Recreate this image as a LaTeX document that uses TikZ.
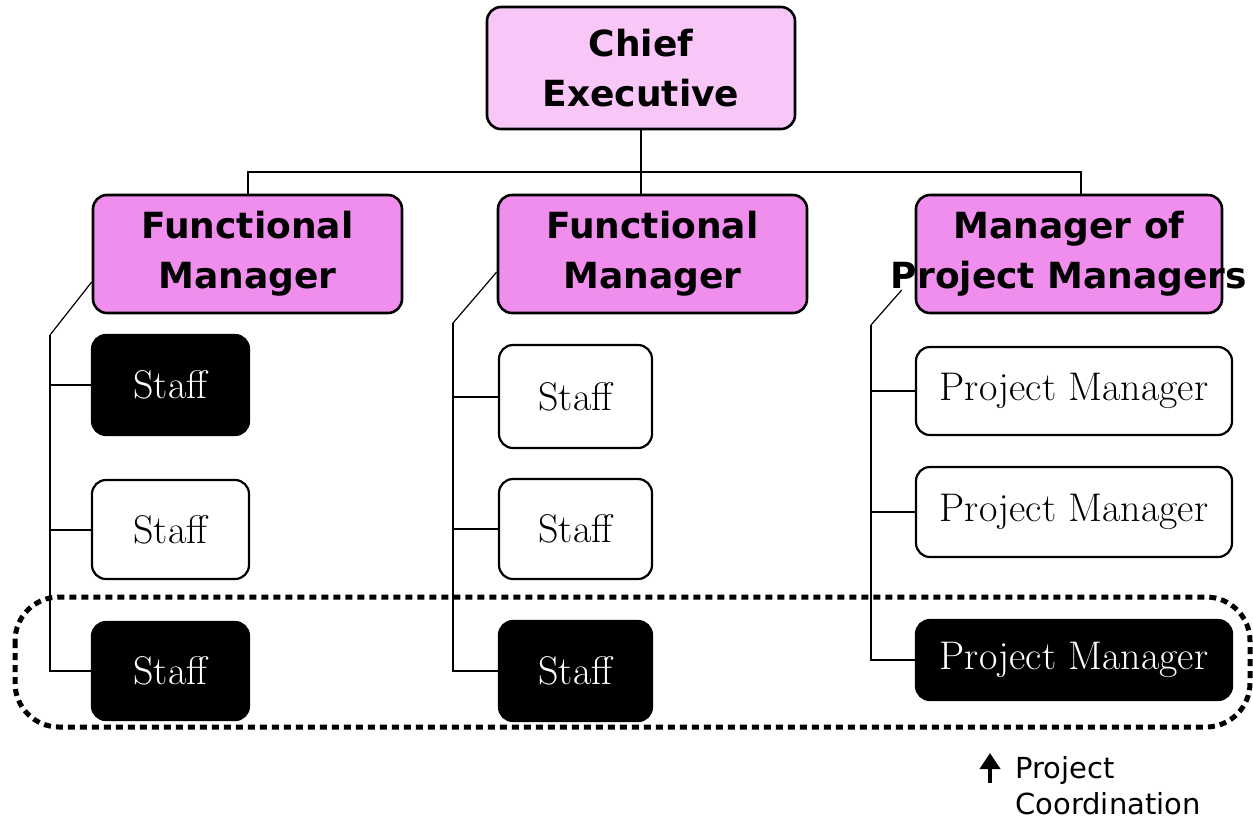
\documentclass[tikz,border=0pt]{standalone}
\usepackage{fontspec}
\newfontfamily\boxfont{DejaVu Sans}
\usepackage{tikz}
\usetikzlibrary{positioning,calc,arrows.meta}
\usepackage{xcolor}
\definecolor{chiefpink}{HTML}{F9C6F8}
\definecolor{mgrpink}{HTML}{F08EEE}

\begin{document}
\begin{tikzpicture} [x=0.5pt, y=-0.5pt,
	headbox/.style={draw, line width=1.3pt, rounded corners=7pt, inner sep=0pt, align=center, font=\boxfont\bfseries\fontsize{18}{25}\selectfont},
	staffbox/.style={draw, line width=1.1pt, rounded corners=7pt, inner sep=0pt, font=\fontsize{20}{24}\selectfont},
	blackbox/.style={staffbox, fill=black, text=white},
	link/.style={line width=1pt},
	slant/.style={line width=0.6pt},
	grouping/.style={line width=2.5pt, dash pattern=on 3.5pt off 2.5pt, rounded corners=22pt}]
	\useasboundingbox (0, 0) rectangle (1253, 821);
	\node [headbox, fill=chiefpink, minimum width=154pt, minimum height=61pt] (chief) at (641, 68) {Chief\\Executive};
	\node [headbox, fill=mgrpink, minimum width=154.5pt, minimum height=59pt] (fmA) at (247.5, 254) {Functional\\Manager};
	\node [headbox, fill=mgrpink, minimum width=154.5pt, minimum height=59pt] (fmB) at (652.5, 254) {Functional\\Manager};
	\node [headbox, fill=mgrpink, minimum width=153pt, minimum height=59pt] (mpm) at (1069, 254) {Manager of\\\makebox[0pt]{Project Managers}};
	\node [blackbox, minimum width=78.5pt, minimum height=50pt] (sA1) at (170.5, 385) {Staff};
	\node [staffbox, minimum width=78.5pt, minimum height=49.5pt] (sA2) at (170.5, 529.5) {Staff};
	\node [blackbox, minimum width=78.5pt, minimum height=49pt] (sA3) at (170.5, 671) {Staff};
	\node [staffbox, minimum width=76.5pt, minimum height=51.5pt] (sB1) at (575.5, 396.5) {Staff};
	\node [staffbox, minimum width=76.5pt, minimum height=50pt] (sB2) at (575.5, 529) {Staff};
	\node [blackbox, minimum width=76.5pt, minimum height=50pt] (sB3) at (575.5, 671) {Staff};
	\node [staffbox, minimum width=158pt, minimum height=44pt] (pmA) at (1074, 391) {Project Manager};
	\node [staffbox, minimum width=158pt, minimum height=45pt] (pmB) at (1074, 512) {Project Manager};
	\node [blackbox, minimum width=158pt, minimum height=40pt] (pmC) at (1074, 660) {Project Manager};
	\coordinate (busR) at (1081, 172);
	\draw [link] (chief.south)--(chief.south |- fmB.north);
	\draw [link] (fmA.north)--(fmA.north |- busR)--(busR)--(busR |- mpm.north);
	\coordinate (tA) at (50, 335);
	\coordinate (tB) at (453, 323);
	\coordinate (tC) at (871, 325);
	\draw [slant] ($(fmA.west)+(0, 28)$)--(tA);
	\draw [slant] ($(fmB.west)+(0, 18)$)--(tB);
	\draw [slant] ($(mpm.west)+(-13, 36)$)--(tC);
	\draw [link] (tA)--(tA |- sA3.west)--(sA3.west);
	\draw [link] (tA |- sA1.west)--(sA1.west);
	\draw [link] (tA |- sA2.west)--(sA2.west);
	\draw [link] (tB)--(tB |- sB3.west)--(sB3.west);
	\draw [link] (tB |- sB1.west)--(sB1.west);
	\draw [link] (tB |- sB2.west)--(sB2.west);
	\draw [link] (tC)--(tC |- pmC.west)--(pmC.west);
	\draw [link] (tC |- pmA.west)--(pmA.west);
	\draw [link] (tC |- pmB.west)--(pmB.west);
	\draw [grouping] (15, 597) rectangle (1250, 727);
	\coordinate (arrowfoot) at (990, 783);
	\coordinate (arrowtip) at (990, 753);
	\draw [line width=2pt, -{Triangle[width=10pt, length=8pt]}] (arrowfoot)--(arrowtip);
	\node [anchor=north west, inner sep=0pt, align=left, font=\boxfont\fontsize{14.5}{18}\selectfont] (coordination) at (1015, 756) {Project\\Coordination};
\end{tikzpicture}
\end{document}
